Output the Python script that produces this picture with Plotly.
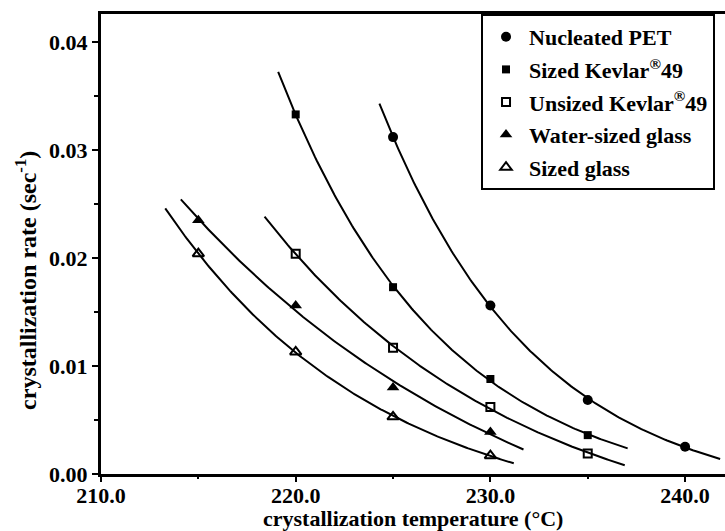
import numpy as np
import plotly.graph_objects as go

# ---- data ----
series_names = [
    "Nucleated PET",
    "Sized Kevlar<sup>®</sup>49",
    "Unsized Kevlar<sup>®</sup>49",
    "Water-sized glass",
    "Sized glass",
]
temp_pet = [225, 230, 235, 240]
rate_pet = [0.0312, 0.0156, 0.00686, 0.00253]
temp_sized_kevlar = [220, 225, 230, 235]
rate_sized_kevlar = [0.0333, 0.0173, 0.0088, 0.0036]
temp_unsized_kevlar = [220, 225, 230, 235]
rate_unsized_kevlar = [0.0204, 0.0117, 0.0062, 0.0019]
temp_water_glass = [215, 220, 225, 230]
rate_water_glass = [0.0235, 0.0156, 0.0080, 0.0039]
temp_sized_glass = [215, 220, 225, 230]
rate_sized_glass = [0.0204, 0.0113, 0.0053, 0.0017]

# temperature span covered by each fitted curve
fit_start = [224.3, 219.1, 218.4, 214.1, 213.3]
fit_end = [241.8, 237.05, 236.9, 231.7, 231.2]

x_range = [210, 242.05]
x_ticks = [210, 220, 230, 240]
y_ticks = [0.00, 0.01, 0.02, 0.03, 0.04]

temps = [temp_pet, temp_sized_kevlar, temp_unsized_kevlar, temp_water_glass, temp_sized_glass]
rates = [rate_pet, rate_sized_kevlar, rate_unsized_kevlar, rate_water_glass, rate_sized_glass]

markers = [
    dict(symbol="circle", size=10, color="black"),
    dict(symbol="square", size=8, color="black"),
    dict(symbol="square-open", size=8, color="black", line=dict(width=2, color="black")),
    dict(symbol="triangle-up", size=11, color="black"),
    dict(symbol="triangle-up-open", size=10, color="black", line=dict(width=2, color="black")),
]


def fit_exp_offset(T, r):
    """Least-squares fit of r = A*exp(-k*(T-Tm)) + c (k by grid search)."""
    T = np.asarray(T, float)
    r = np.asarray(r, float)
    tm = T.mean()
    best = None
    for k in np.linspace(0.005, 0.6, 2000):
        B = np.column_stack([np.exp(-k * (T - tm)), np.ones_like(T)])
        sol, *_ = np.linalg.lstsq(B, r, rcond=None)
        res = np.sum((B @ sol - r) ** 2)
        if best is None or res < best[0]:
            best = (res, k, sol)
    _, k, (a, c) = best
    return lambda t: a * np.exp(-k * (t - tm)) + c


FONT = "Liberation Serif"
FS = 22
fig = go.Figure()

# fitted curves drawn on the overlaying axis that carries the tick marks
for T, r, t0, t1 in zip(temps, rates, fit_start, fit_end):
    f = fit_exp_offset(T, r)
    tt = np.linspace(t0, t1, 200)
    fig.add_trace(go.Scatter(x=tt, y=f(tt), mode="lines", xaxis="x2",
                             line=dict(color="black", width=2), showlegend=False,
                             hoverinfo="skip"))

for i, (name, T, r, m) in enumerate(zip(series_names, temps, rates, markers)):
    fig.add_trace(go.Scatter(x=T, y=r, mode="markers", name=name, marker=m,
                             legendgroup=f"g{i}"))

fig.update_layout(
    width=725, height=531, autosize=False,
    margin=dict(l=101, r=0, t=14, b=57),
    paper_bgcolor="white", plot_bgcolor="white",
    font=dict(family=FONT, size=FS, color="black", weight="bold"),
    showlegend=True,
    legend=dict(x=0.609, y=1, xanchor="left", yanchor="top",
                bgcolor="white", bordercolor="black", borderwidth=2,
                font=dict(family=FONT, size=FS, color="black", weight="bold"),
                tracegroupgap=1, itemwidth=36, entrywidth=270, entrywidthmode="pixels"),
    xaxis=dict(range=x_range, tickvals=x_ticks, tickformat=".1f",
               ticks="",
               showline=True, linewidth=2.5, linecolor="black", mirror=True,
               showgrid=False, zeroline=False,
               tickfont=dict(family=FONT, size=FS, color="black", weight="bold")),
    xaxis2=dict(range=x_range, overlaying="x", side="bottom", tickvals=x_ticks,
                showticklabels=False, ticks="outside", ticklen=7, tickwidth=2,
                tickcolor="black", showline=False, showgrid=False, zeroline=False,
                minor=dict(dtick=5, tick0=210, ticks="outside", ticklen=4,
                           tickwidth=1.5, tickcolor="black", showgrid=False)),
    yaxis=dict(range=[0, 0.0426], tickvals=y_ticks, tickformat=".2f",
               ticks="outside", ticklen=6, tickwidth=2, tickcolor="black",
               showline=True, linewidth=3, linecolor="black",
               showgrid=False, zeroline=False,
               minor=dict(dtick=0.005, tick0=0, ticks="outside", ticklen=4,
                          tickwidth=1.5, tickcolor="black", showgrid=False),
               tickfont=dict(family=FONT, size=FS, color="black", weight="bold")),
    annotations=[
        dict(text="crystallization temperature (°C)", xref="paper", yref="paper",
             x=0.5, y=-0.0957, xanchor="center", yanchor="middle", showarrow=False,
             font=dict(family=FONT, size=FS, color="black", weight="bold")),
        dict(text="crystallization rate (sec<sup>-1</sup>)", xref="paper", yref="paper",
             x=-0.12, y=0.42, xanchor="center", yanchor="middle", showarrow=False,
             textangle=-90,
             font=dict(family=FONT, size=24, color="black", weight="bold")),
    ],
)

fig.write_html("out.html")
